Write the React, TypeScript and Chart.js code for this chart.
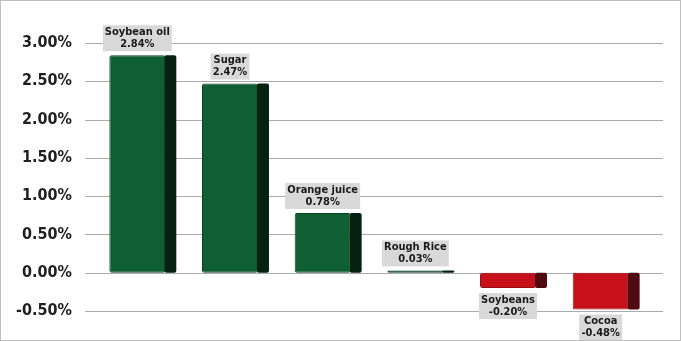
import React, { useEffect, useRef } from "react";
import { Chart, registerables } from "chart.js";
Chart.register(...registerables);

const categories = ["Soybean oil", "Sugar", "Orange juice", "Rough Rice", "Soybeans", "Cocoa"];
const changes = [2.84, 2.47, 0.78, 0.03, -0.2, -0.48];
const yMin = -0.5;
const yMax = 3.0;
const yStep = 0.5;

const FONT = '"DejaVu Sans Condensed", "DejaVu Sans", Verdana, sans-serif';
const POS_FRONT = "#105E33";
const POS_SIDE = "#04220F";
const NEG_FRONT = "#C8101B";
const NEG_SIDE = "#4E0A10";

function rr(ctx: CanvasRenderingContext2D, x: number, y: number, w: number, h: number, r: number) {
  const rad = Math.max(0, Math.min(r, w / 2, h / 2));
  ctx.beginPath();
  ctx.moveTo(x + rad, y);
  ctx.lineTo(x + w - rad, y);
  ctx.quadraticCurveTo(x + w, y, x + w, y + rad);
  ctx.lineTo(x + w, y + h - rad);
  ctx.quadraticCurveTo(x + w, y + h, x + w - rad, y + h);
  ctx.lineTo(x + rad, y + h);
  ctx.quadraticCurveTo(x, y + h, x, y + h - rad);
  ctx.lineTo(x, y + rad);
  ctx.quadraticCurveTo(x, y, x + rad, y);
  ctx.closePath();
}

const decor = {
  id: "decor",
  beforeDatasetsDraw(chart: any) {
    const { ctx, chartArea } = chart;
    const y = chart.scales.y;
    ctx.save();
    ctx.strokeStyle = "#ABABAB";
    ctx.lineWidth = 1;
    for (const t of y.ticks) {
      const py = Math.round(y.getPixelForValue(t.value)) + 0.5;
      ctx.beginPath();
      ctx.moveTo(chartArea.left - 6, py);
      ctx.lineTo(chartArea.right + 16, py);
      ctx.stroke();
    }
    ctx.restore();
  },
  afterDatasetsDraw(chart: any) {
    const { ctx } = chart;
    const meta = chart.getDatasetMeta(0);
    ctx.save();
    meta.data.forEach((bar: any, i: number) => {
      const { x, y, base, width } = bar.getProps(["x", "y", "base", "width"], true);
      const v = changes[i];
      const right = x + width / 2;
      const top = Math.min(y, base);
      const bottom = Math.max(y, base);
      ctx.fillStyle = v >= 0 ? POS_SIDE : NEG_SIDE;
      rr(ctx, right - 1, top, 12, bottom - top, 2);
      ctx.fill();

      // label
      const l1 = categories[i];
      const l2 = v.toFixed(2) + "%";
      ctx.font = "bold 11px " + FONT;
      const tw = Math.max(ctx.measureText(l1).width, ctx.measureText(l2).width);
      const bw = Math.ceil(tw) + 4;
      const bh = 26;
      const bx = x - bw / 2;
      const by = v >= 0 ? top - 4 - bh : bottom + 5;
      ctx.fillStyle = "#D9D9D9";
      ctx.fillRect(bx, by, bw, bh);
      ctx.fillStyle = "#1A1A1A";
      ctx.textAlign = "center";
      ctx.textBaseline = "middle";
      ctx.fillText(l1, x, by + 7);
      ctx.fillText(l2, x, by + 19);
    });
    ctx.restore();
  },
  afterDraw(chart: any) {
    const { ctx, width, height } = chart;
    ctx.save();
    ctx.strokeStyle = "#BFBFBF";
    ctx.lineWidth = 1;
    ctx.strokeRect(0.5, 0.5, width - 1, height - 1);
    ctx.restore();
  },
};

export default function App() {
  const ref = useRef<HTMLCanvasElement>(null);
  useEffect(() => {
    if (!ref.current) return;
    const chart = new Chart(ref.current, {
      type: "bar",
      data: {
        labels: categories,
        datasets: [
          {
            data: changes,
            backgroundColor: changes.map((v) => (v >= 0 ? POS_FRONT : NEG_FRONT)),
            borderColor: changes.map((v) => (v >= 0 ? "#0A4022" : "#9A0C14")),
            borderWidth: 1,
            borderRadius: 2,
            borderSkipped: false,
            barPercentage: 0.604,
            categoryPercentage: 1,
          },
        ],
      },
      options: {
        responsive: false,
        animation: false,
        devicePixelRatio: 1,
        layout: { padding: { top: 43, bottom: 30, right: 34, left: 0 } },
        plugins: { legend: { display: false }, tooltip: { enabled: false } },
        scales: {
          x: { display: false },
          y: {
            min: yMin,
            max: yMax,
            border: { display: false },
            grid: { display: false },
            afterFit: (scale: any) => {
              scale.width = 91;
            },
            ticks: {
              stepSize: yStep,
              padding: 11,
              color: "#1F1F1F",
              font: { family: FONT, size: 16, weight: "bold" },
              callback: (v: any) => Number(v).toFixed(2) + "%",
            },
          },
        },
      },
      plugins: [decor],
    });
    return () => chart.destroy();
  }, []);
  return (
    <div style={{ position: "fixed", left: 0, top: 0, width: 681, height: 341, background: "#fff" }}>
      <canvas ref={ref} width={681} height={341} style={{ display: "block" }} />
    </div>
  );
}
